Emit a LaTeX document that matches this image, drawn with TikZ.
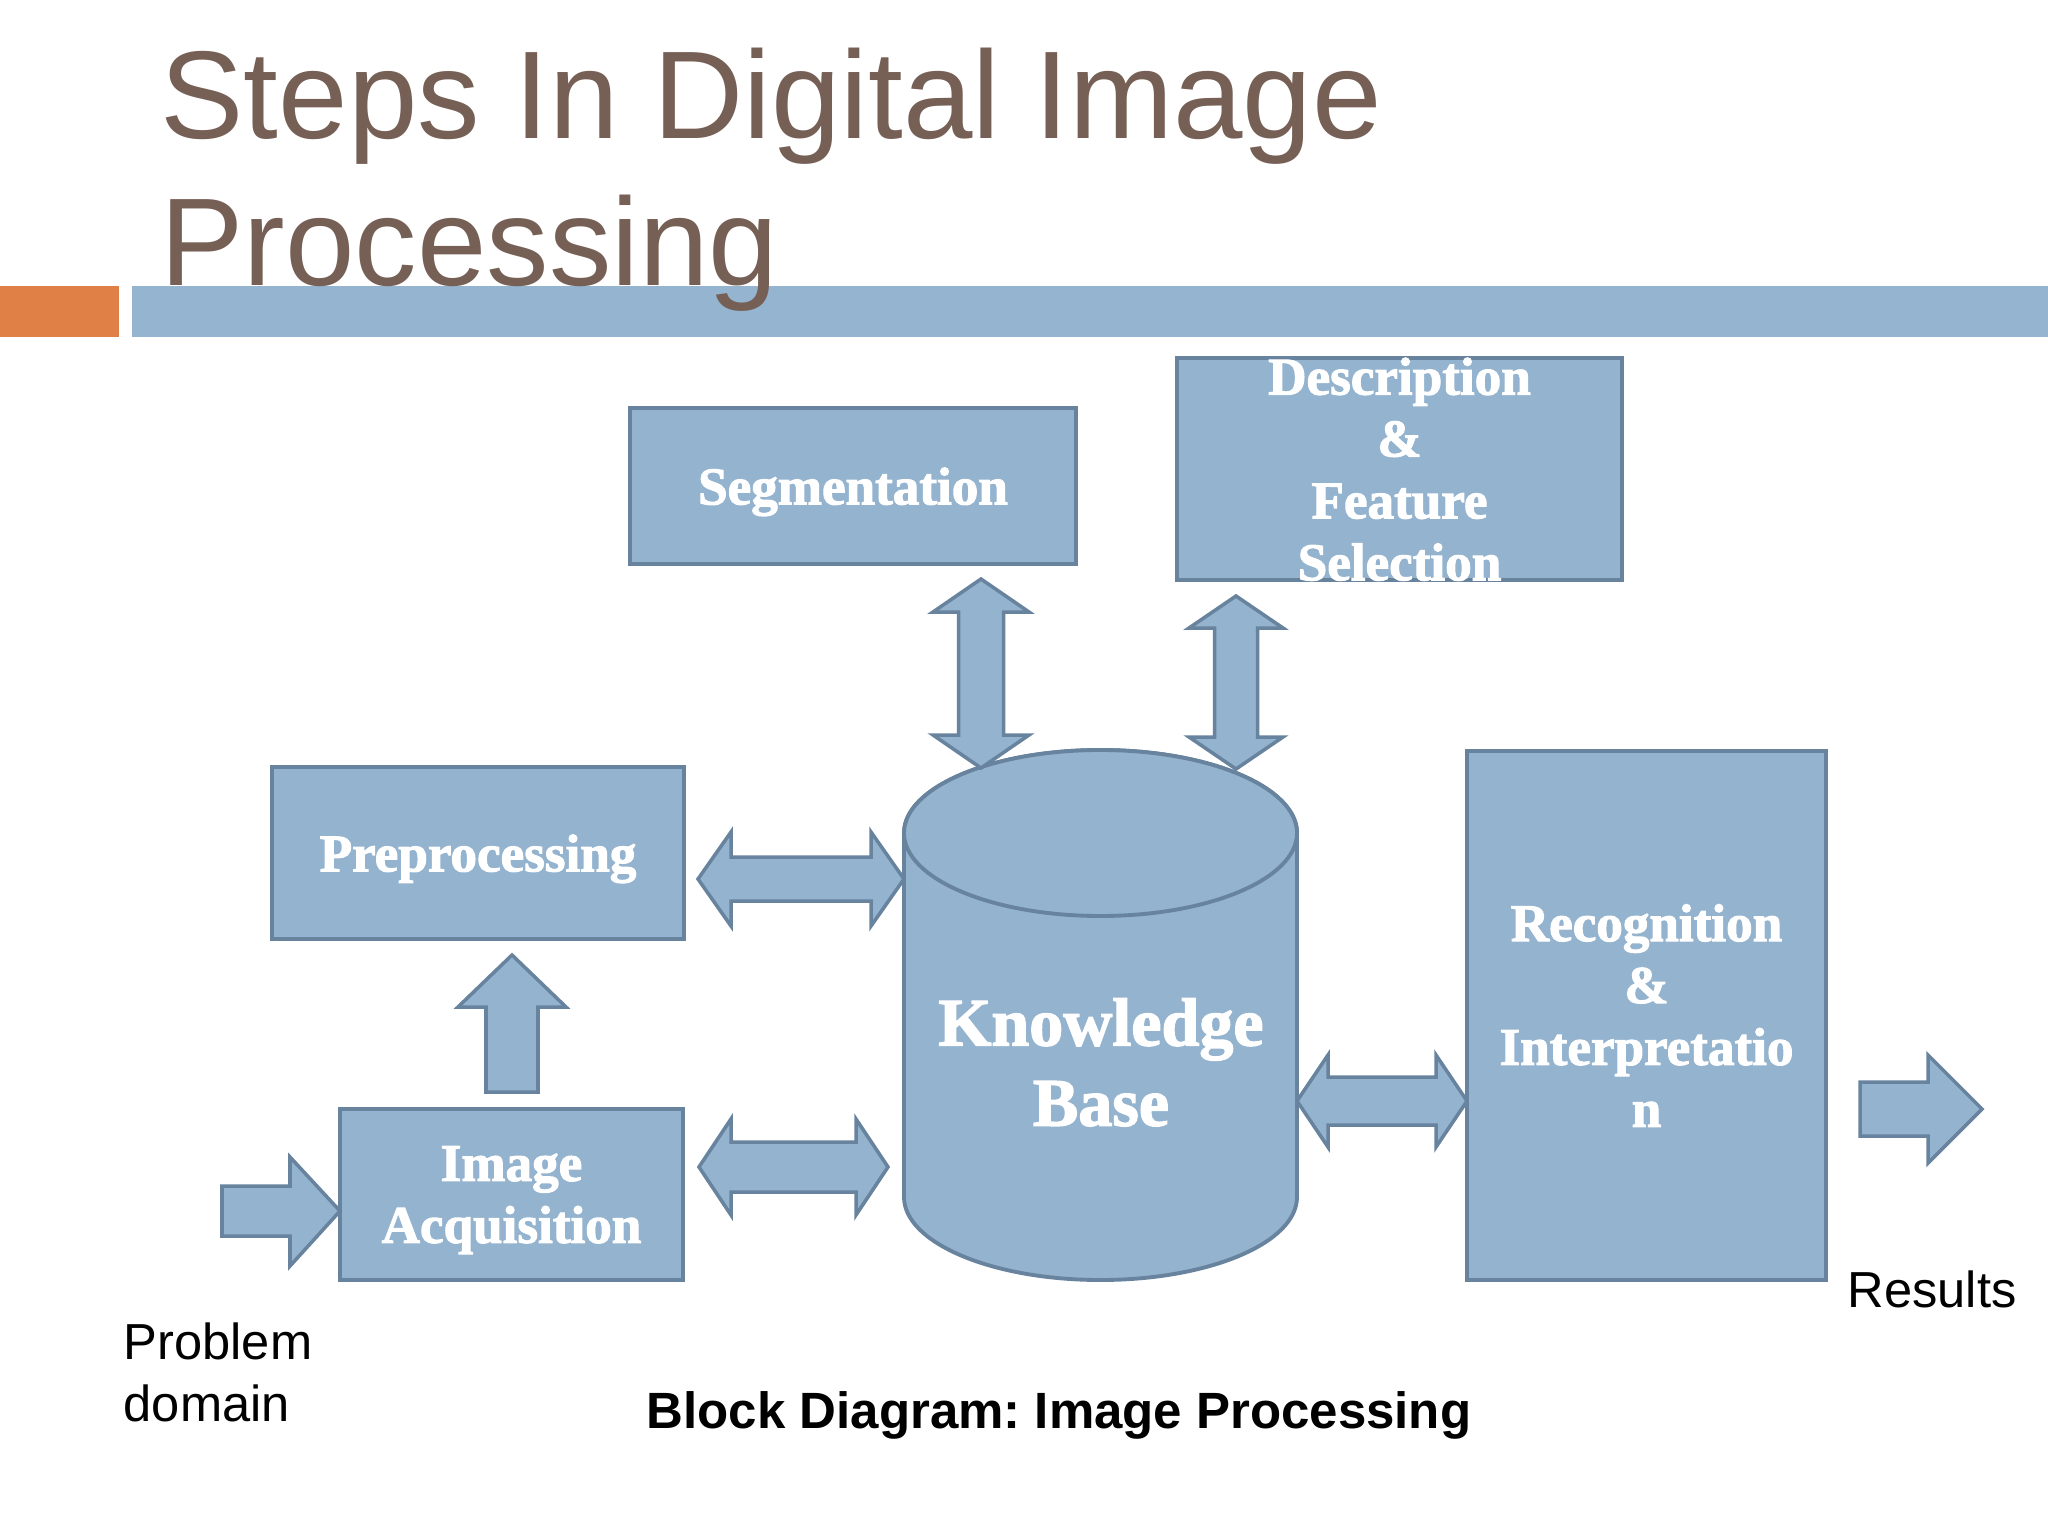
\documentclass[tikz,border=0pt]{standalone}
\usepackage{fontspec}
\setmainfont{Liberation Serif}
\newfontfamily\titlefont{Liberation Sans}
\newfontfamily\fatfont[BoldFeatures={FakeBold=2}]{Liberation Serif}
\frenchspacing
\definecolor{boxfill}{RGB}{148,179,207}
\definecolor{boxline}{RGB}{104,131,158}
\definecolor{titlebrown}{RGB}{118,96,86}
\definecolor{barorange}{RGB}{224,128,70}
\definecolor{barblue}{RGB}{148,180,207}
\tikzset{
  blk/.style={draw=boxline, fill=boxfill, line width=1.1pt, inner sep=0pt,
    text=white, align=center, text depth=-0.07cm,
    font=\fatfont\bfseries\fontsize{15.1}{17.6}\selectfont},
  blkarrow/.style={draw=boxline, fill=boxfill, line width=1pt, line join=miter},
  plainlbl/.style={inner sep=0pt, text=black, font=\titlefont\fontsize{14.4}{17.6}\selectfont}
}
% horizontal double block arrow: x1, x2, yc, shaft half, head half, head length
\newcommand\hdarrow[6]{\draw[blkarrow] (#1,#3) -- ({#1+#6},{#3-#5}) -- ({#1+#6},{#3-#4}) -- ({#2-#6},{#3-#4}) -- ({#2-#6},{#3-#5}) -- (#2,#3) -- ({#2-#6},{#3+#5}) -- ({#2-#6},{#3+#4}) -- ({#1+#6},{#3+#4}) -- ({#1+#6},{#3+#5}) -- cycle;}
% vertical double block arrow: xc, y1, y2, shaft half, head half, head length
\newcommand\vdarrow[6]{\draw[blkarrow] (#1,#2) -- ({#1+#5},{#2+#6}) -- ({#1+#4},{#2+#6}) -- ({#1+#4},{#3-#6}) -- ({#1+#5},{#3-#6}) -- (#1,#3) -- ({#1-#5},{#3-#6}) -- ({#1-#4},{#3-#6}) -- ({#1-#4},{#2+#6}) -- ({#1-#5},{#2+#6}) -- cycle;}
\begin{document}
\begin{tikzpicture}[x=0.01cm,y=-0.01cm]
\useasboundingbox (0,0) rectangle (2048,1536);
\fill[white] (0,0) rectangle (2048,1536);

% header bars
\fill[barorange] (0,286) rectangle (119,337);
\fill[barblue] (132,286) rectangle (2048,337);

% title
\node[anchor=north west, inner sep=0pt, align=left, text=titlebrown,
  font=\titlefont\fontsize{35.5}{41.8}\selectfont] (title) at (160,47)
  {Steps In Digital Image\\Processing};

% knowledge base cylinder
\draw[draw=boxline, fill=boxfill, line width=1.1pt] (904,833) -- (904,1197)
  arc[start angle=180, end angle=0, x radius=196.5, y radius=83] -- (1297,833)
  arc[start angle=0, end angle=-180, x radius=196.5, y radius=83] -- cycle;
\draw[draw=boxline, fill=boxfill, line width=1.1pt] (1100.5,833) ellipse [x radius=196.5, y radius=83];
\node[inner sep=0pt, text=white, align=center, text depth=0pt,
  font=\fatfont\bfseries\fontsize{19.35}{22.8}\selectfont] (kb) at (1101,1062) {Knowledge\\Base};

% boxes
\node[blk, minimum width=4.46cm, minimum height=1.56cm] (seg) at (853,486) {Segmentation};
\node[blk, minimum width=4.45cm, minimum height=2.22cm] (desc) at (1399.5,469) {Description\\\&\\Feature\\Selection};
\node[blk, minimum width=4.12cm, minimum height=1.72cm] (pre) at (478,853) {Preprocessing};
\node[blk, minimum width=3.43cm, minimum height=1.71cm] (acq) at (511.5,1194.5) {Image\\Acquisition};
\node[blk, minimum width=3.59cm, minimum height=5.29cm] (rec) at (1646.5,1015.5) {Recognition\\\&\\Interpretatio\\n};

% double block arrows
\vdarrow{981}{579}{768}{22.5}{48}{33}
\vdarrow{1236}{596}{769}{21.5}{47}{32}
\hdarrow{698}{904}{879}{22}{47}{33}
\hdarrow{699}{888}{1167}{25}{48}{32}
\hdarrow{1297}{1467}{1101}{24}{46}{31}

% single block arrows
\draw[blkarrow] (512,955) -- (566,1007) -- (538,1007) -- (538,1092) -- (486,1092) -- (486,1007) -- (458,1007) -- cycle;
\draw[blkarrow] (340,1211) -- (290,1157) -- (290,1186) -- (222,1186) -- (222,1236) -- (290,1236) -- (290,1266) -- cycle;
\draw[blkarrow] (1982,1109) -- (1928,1055) -- (1928,1082) -- (1860,1082) -- (1860,1136) -- (1928,1136) -- (1928,1163) -- cycle;

% labels
\node[plainlbl, anchor=north west, align=left] (prob) at (123,1322) {Problem\\domain};
\node[plainlbl, anchor=base west] (res) at (1847,1307) {Results};
\node[inner sep=0pt, anchor=base west, font=\titlefont\bfseries\fontsize{14.5}{17}\selectfont] (cap) at (646,1428) {Block Diagram: Image Processing};
\end{tikzpicture}
\end{document}
